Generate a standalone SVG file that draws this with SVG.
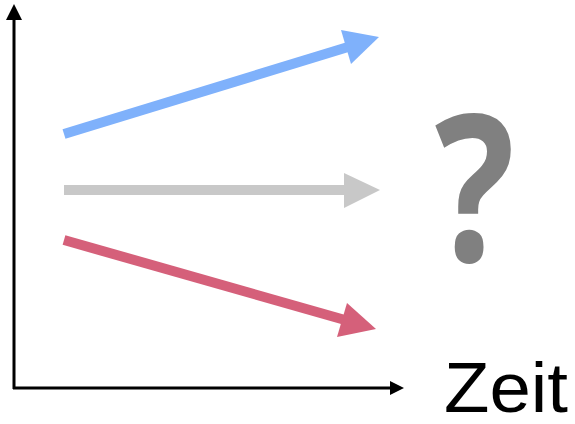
<svg xmlns="http://www.w3.org/2000/svg" width="575" height="424" viewBox="0 0 575 424">
<style>
.axis{stroke:#000;stroke-width:3;fill:none}
.arr{stroke-width:10;fill:none}
</style>
<rect width="575" height="424" fill="#fff"/>
<g id="connectors">
<g id="axes">
<path class="axis" d="M14,389 V18 M13,388 H392"/>
<polygon points="14,4 6,20 22,20" fill="#000"/>
<polygon points="404,388 390,381 390,395" fill="#000"/>
</g>
<g id="blue">
<line class="arr" x1="64" y1="134" x2="348" y2="47" stroke="#7fb1fb"/>
<polygon points="379,37 341,30 351,64" fill="#7fb1fb"/>
</g>
<g id="gray">
<line class="arr" x1="64" y1="190" x2="346" y2="190" stroke="#c8c8c8"/>
<polygon points="380,190 344,173 344,208" fill="#c8c8c8"/>
</g>
<g id="red">
<line class="arr" x1="64" y1="240" x2="345" y2="320" stroke="#d5607a"/>
<polygon points="376,329 347,303 337,337" fill="#d5607a"/>
</g>
</g>
<g id="question" transform="translate(474.5,0) scale(0.82,1) translate(-474.5,0)">
<text x="474.5" y="261" text-anchor="middle" font-family="'Noto Sans', sans-serif" font-weight="bold" font-size="204" fill="#808080">?</text>
</g>
<g id="zeit">
<text x="444" y="412" font-family="'Liberation Sans', Arial, sans-serif" font-size="70" fill="#000" textLength="124" lengthAdjust="spacingAndGlyphs">Zeit</text>
</g>
</svg>
